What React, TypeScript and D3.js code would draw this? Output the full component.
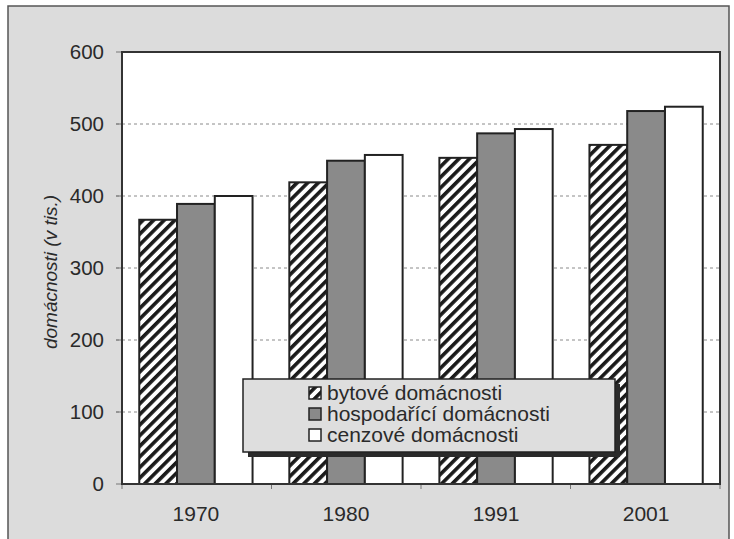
import React from "react";
import * as d3 from "d3";

const categories = ["1970", "1980", "1991", "2001"];
const seriesNames = ["bytové domácnosti", "hospodařící domácnosti", "cenzové domácnosti"];
const bytove = [367, 419, 453, 471];
const hospodarici = [389, 449, 487, 518];
const cenzove = [400, 457, 493, 524];
const yTicks = [0, 100, 200, 300, 400, 500, 600];
const yTitle = "domácnosti (v tis.)";

const W = 734, H = 539;
const PL = 122, PR = 720, PT = 52, PB = 484;
const FONT = "'Liberation Sans', Arial, sans-serif";

export default function App() {
  const series = [bytove, hospodarici, cenzove];
  const x0 = d3.scaleBand<string>().domain(categories).range([PL, PR]).paddingInner(0.245).paddingOuter(0.115);
  const x1 = d3.scaleBand<number>().domain([0, 1, 2]).range([0, x0.bandwidth()]);
  const y = d3.scaleLinear().domain([0, 600]).range([PB, PT]);
  const fills = ["url(#hatch)", "#8a8a8a", "#ffffff"];
  const boundaries = d3.range(categories.length + 1).map((i) => PL + (PR - PL) * i / categories.length);

  const lx = 243, ly = 379, lw = 372, lh = 73;

  return (
    <svg width={W} height={H} style={{ position: "absolute", left: 0, top: 0 }} fontFamily={FONT}>
      <defs>
        <pattern id="hatch" patternUnits="userSpaceOnUse" width={7.5} height={7.5} patternTransform="rotate(45)">
          <rect width={7.5} height={7.5} fill="#ffffff" />
          <rect width={3.6} height={7.5} fill="#1a1a1a" />
        </pattern>
      </defs>
      <rect x={0} y={0} width={W} height={H} fill="#ffffff" />
      <rect x={8} y={6} width={721} height={545} fill="#dcdcdc" stroke="#555" strokeWidth={1.5} />
      <rect x={PL} y={PT} width={PR - PL} height={PB - PT} fill="#ffffff" />
      {yTicks.filter((t) => t > 0 && t < 600).map((t) => (
        <line key={"g" + t} x1={PL - 6} x2={PR} y1={y(t)} y2={y(t)} stroke="#8a8a8a" strokeWidth={1} strokeDasharray="3,3" />
      ))}
      {yTicks.map((t) => (
        <line key={"tk" + t} x1={PL - 6} x2={PL} y1={y(t)} y2={y(t)} stroke="#777" strokeWidth={1} />
      ))}
      {yTicks.map((t) => (
        <text key={"yl" + t} x={104} y={y(t)} dy="0.36em" textAnchor="end" fontSize={20.5} fill="#2a2a2a">{t}</text>
      ))}
      {boundaries.map((b, i) => (
        <line key={"xb" + i} x1={b} x2={b} y1={PB} y2={PB + 5} stroke="#777" strokeWidth={1} />
      ))}
      {categories.map((c, i) => (
        <g key={c}>
          {series.map((s, j) => (
            <rect key={j} x={(x0(c) as number) + (x1(j) as number)} y={y(s[i])} width={x1.bandwidth()} height={PB - y(s[i])}
              fill={fills[j]} stroke="#222" strokeWidth={2} />
          ))}
          <text x={(x0(c) as number) + x0.bandwidth() / 2} y={521} textAnchor="middle" fontSize={21} fill="#2a2a2a">{c}</text>
        </g>
      ))}
      <rect x={PL} y={PT} width={PR - PL} height={PB - PT} fill="none" stroke="#333" strokeWidth={2} />
      <text transform={`translate(57,${(PT + PB) / 2 + 4}) rotate(-90)`} textAnchor="middle" fontSize={19} fontStyle="italic" fill="#2a2a2a">{yTitle}</text>
      <rect x={lx + 5} y={ly + 5} width={lw} height={lh} fill="#2a2a2a" />
      <rect x={lx} y={ly} width={lw} height={lh} fill="#dedede" stroke="#222" strokeWidth={1.5} />
      {seriesNames.map((n, j) => (
        <g key={n}>
          <rect x={309} y={ly + 8 + j * 21} width={12} height={12} fill={fills[j]} stroke="#222" strokeWidth={1.5} />
          <text x={327} y={ly + 14 + j * 21} dy="0.35em" fontSize={21} fill="#2a2a2a">{n}</text>
        </g>
      ))}
    </svg>
  );
}
